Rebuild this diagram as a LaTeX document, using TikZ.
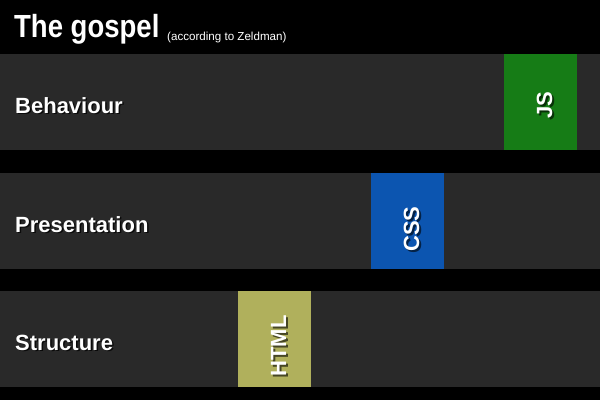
\documentclass[tikz,border=0pt]{standalone}
\usepackage{fontspec}
\setmainfont{Liberation Sans}
\definecolor{band}{RGB}{41,41,41}
\definecolor{jsgreen}{RGB}{22,124,22}
\definecolor{cssblue}{RGB}{12,85,176}
\definecolor{htmlolive}{RGB}{176,176,92}
\tikzset{
  bandbox/.style={fill=band, draw=none},
  techbox/.style={draw=none},
  lbl/.style={text=white, font=\bfseries\fontsize{22}{22}\selectfont, inner sep=0pt, anchor=base west},
  lblsh/.style={lbl, text=black, opacity=0.75},
  tech/.style={text=white, font=\bfseries\fontsize{22}{22}\selectfont, inner sep=0pt, anchor=base, rotate=90},
  techsh/.style={tech, text=black, opacity=0.6}
}
\begin{document}
\begin{tikzpicture}[x=1pt,y=-1pt]
\fill[black] (0,0) rectangle (600,400);
\useasboundingbox (0,0) rectangle (600,400);
% title
\node[text=white, font=\bfseries\fontsize{32}{32}\selectfont, inner sep=0pt, anchor=base west, xscale=0.86] (title) at (14,37) {The gospel};
\node[text=white, font=\fontsize{11.6}{11.6}\selectfont, inner sep=0pt, anchor=base west] (sub) at (167,40) {(according to Zeldman)};
% bands
\path[bandbox] (0,54) rectangle (600,150) node[pos=0.5] (b1) {};
\path[bandbox] (0,173) rectangle (600,269) node[pos=0.5] (b2) {};
\path[bandbox] (0,291) rectangle (600,387) node[pos=0.5] (b3) {};
% colored blocks
\path[techbox, fill=jsgreen] (504,54) rectangle (577,150) node[pos=0.5] (jsb) {};
\path[techbox, fill=cssblue] (371,173) rectangle (444,269) node[pos=0.5] (cssb) {};
\path[techbox, fill=htmlolive] (238,291) rectangle (311,387) node[pos=0.5] (htmlb) {};
% row labels
\node[lblsh] (l1s) at (16.5,114.5) {Behaviour};
\node[lbl] (l1) at (15,113) {Behaviour};
\node[lblsh] (l2s) at (16.5,233.5) {Presentation};
\node[lbl] (l2) at (15,232) {Presentation};
\node[lblsh] (l3s) at (16.5,351.5) {Structure};
\node[lbl] (l3) at (15,350) {Structure};
% tech labels
\node[techsh] (jss) at (554,107.5) {JS};
\node[tech] (js) at (552,105.5) {JS};
\node[techsh] (csss) at (421,231) {CSS};
\node[tech] (css) at (419,229) {CSS};
\node[techsh] (htmls) at (288,348) {HTML};
\node[tech] (html) at (286,346) {HTML};
\end{tikzpicture}
\end{document}
